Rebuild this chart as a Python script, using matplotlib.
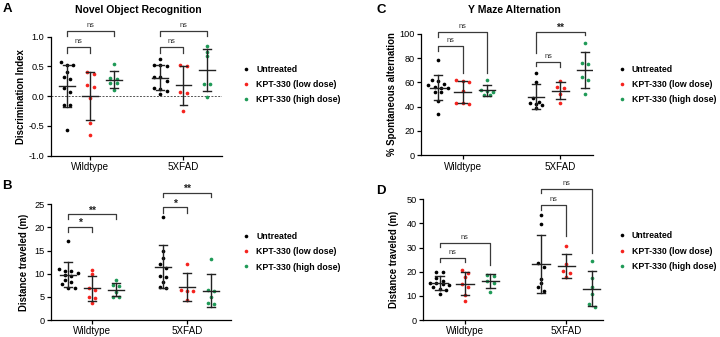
import numpy as np
import matplotlib
matplotlib.use("Agg")
import matplotlib.pyplot as plt
from matplotlib.lines import Line2D

plt.rcParams['font.family'] = ['Liberation Sans', 'DejaVu Sans']

groups = ['Wildtype', '5XFAD']
treatments = ['Untreated', 'KPT-330 (low dose)', 'KPT-330 (high dose)']
colors = ['#000000', '#f5231e', '#1f9a57']

# A - novel object recognition (discrimination index)
A_wt_unt = [0.57, 0.52, 0.52, 0.40, 0.32, 0.29, 0.13, 0.07, -0.15, -0.15, -0.57]
A_wt_low = [0.40, 0.37, 0.19, 0.15, -0.03, -0.45, -0.65]
A_wt_high = [0.54, 0.30, 0.29, 0.23, 0.22, 0.10]
A_fad_unt = [0.63, 0.53, 0.52, 0.50, 0.32, 0.32, 0.26, 0.13, 0.12, 0.08, 0.03]
A_fad_low = [0.53, 0.50, 0.07, 0.05, -0.25]
A_fad_high = [0.84, 0.75, 0.68, 0.20, 0.20, -0.02]

# B - distance traveled (m), NOR
B_wt_unt = [17.1, 11.0, 10.6, 10.5, 10.2, 9.8, 9.5, 8.7, 8.2, 7.8, 7.0, 7.0]
B_wt_low = [10.8, 9.9, 7.0, 6.5, 5.0, 4.8, 3.7]
B_wt_high = [8.6, 7.5, 7.3, 6.1, 5.0, 5.0]
B_fad_unt = [22.3, 15.0, 13.5, 12.0, 11.3, 9.5, 9.2, 8.2, 7.2, 7.0]
B_fad_low = [12.2, 6.4, 6.2, 6.2, 4.4]
B_fad_high = [13.1, 6.5, 6.3, 4.9, 3.6, 3.4]

# C - Y maze % spontaneous alternation
C_wt_unt = [78, 62, 61, 59, 58, 56, 55, 55, 52, 52, 45, 34]
C_wt_low = [62, 61, 60, 53, 43, 42, 43]
C_wt_high = [62, 54, 53, 52, 50, 50]
C_fad_unt = [68, 60.5, 47, 44, 43, 42.5, 41.5, 38.5]
C_fad_low = [61.4, 56.4, 55.1, 50.2, 43.3]
C_fad_high = [92.6, 76.2, 75.3, 64.1, 61.9, 50.4]

# D - distance traveled (m), Y maze
D_wt_unt = [20.0, 19.8, 17.5, 16.3, 15.5, 15.2, 15.0, 14.5, 13.5, 12.8, 12.5, 10.8]
D_wt_low = [20.8, 19.3, 18.0, 15.0, 13.5, 10.5, 7.9]
D_wt_high = [18.8, 18.2, 16.0, 15.5, 11.5]
D_fad_unt = [43.5, 39.6, 23.5, 22.1, 17.0, 15.2, 13.5, 12.0]
D_fad_low = [30.5, 23.2, 20.3, 19.6, 17.7]
D_fad_high = [24.3, 17.5, 13.5, 10.8, 6.6, 5.3]

# significance brackets: (x1, x2, top, leg1 end, leg2 end, label)
A_sig = [(0, 1, 0.82, 0.73, 0.73, 'ns'), (0, 2, 1.10, 1.01, 1.01, 'ns'),
         (4, 5, 0.82, 0.73, 0.73, 'ns'), (4, 6, 1.10, 1.01, 1.01, 'ns')]
B_sig = [(0, 1, 20.2, 19.1, 19.1, '*'), (0, 2, 22.8, 21.8, 21.8, '**'),
         (4, 5, 24.4, 23.2, 23.2, '*'), (4, 6, 27.5, 26.5, 26.5, '**')]
C_sig = [(0, 1, 89.9, 86.0, 68.0, 'ns'), (0, 2, 101.6, 97.5, 67.4, 'ns'),
         (4, 5, 77.0, 73.7, 72.9, 'ns'), (4, 6, 101.7, 83.9, 98.9, '**')]
D_sig = [(0, 1, 25.8, 24.2, 23.9, 'ns'), (0, 2, 32.0, 30.4, 22.8, 'ns'),
         (4, 5, 47.7, 45.6, 34.9, 'ns'), (4, 6, 54.3, 52.5, 27.6, 'ns')]

W, H = 720, 337
fig = plt.figure(figsize=(W / 100, H / 100), dpi=100)


def rect(x0, x1, ytop, ybot):
    return [x0 / W, 1 - ybot / H, (x1 - x0) / W, (ybot - ytop) / H]


def swarm(vals, ax, step_px=6.4, thr_px=4.0):
    # group close values into rows and spread them sideways
    bb = ax.get_window_extent()
    y0, y1 = ax.get_ylim()
    x0, x1 = ax.get_xlim()
    py = bb.height / (y1 - y0)
    px = bb.width / (x1 - x0)
    order = np.argsort(vals)[::-1]
    v = np.asarray(vals)[order]
    offs = np.zeros(len(v))
    rows = []
    for i in range(len(v)):
        if rows and (v[rows[-1][0]] - v[i]) * py < thr_px:
            rows[-1].append(i)
        else:
            rows.append([i])
    for r in rows:
        n = len(r)
        for k, i in enumerate(r):
            offs[i] = (k - (n - 1) / 2) * step_px / px
    out = np.zeros(len(v))
    out[order] = offs
    return out


def panel(box, xlim, ylim, yticks, data, sig, ylabel, ylab_x, fmt):
    ax = fig.add_axes(rect(*box))
    ax.set_xlim(*xlim)
    ax.set_ylim(*ylim)
    pos = [0, 1, 2, 4, 5, 6]
    for p, vals in zip(pos, data):
        c = colors[p % 4]
        xs = p + swarm(vals, ax)
        ax.scatter(xs, vals, s=7, color=c, linewidths=0, zorder=3)
        m = np.mean(vals)
        sd = np.std(vals, ddof=1)
        ax.plot([p - 0.34, p + 0.34], [m, m], color='#222222', lw=1.0, zorder=4)
        ax.plot([p, p], [m - sd, m + sd], color='#222222', lw=1.0, zorder=4)
        for yy in (m - sd, m + sd):
            ax.plot([p - 0.17, p + 0.17], [yy, yy], color='#222222', lw=1.0, zorder=4)
    for x1, x2, top, l1, l2, lab in sig:
        ax.plot([x1, x1, x2, x2], [l1, top, top, l2], color='#3a3a3a', lw=0.9,
                clip_on=False)
        if lab == 'ns':
            ax.annotate(lab, ((x1 + x2) / 2, top), xytext=(0, 1.5),
                        textcoords='offset points', ha='center', va='bottom',
                        fontsize=5.3, color='#333333', annotation_clip=False)
        else:
            ax.annotate(lab, ((x1 + x2) / 2, top), xytext=(0, -1),
                        textcoords='offset points', ha='center', va='bottom',
                        fontsize=7.5, fontweight='bold', color='#222222',
                        annotation_clip=False)
    for s in ['top', 'right']:
        ax.spines[s].set_visible(False)
    for s in ['left', 'bottom']:
        ax.spines[s].set_linewidth(0.9)
    ax.set_yticks(yticks)
    ax.set_yticklabels([fmt.format(t) for t in yticks], fontsize=6.6)
    ax.set_xticks([1, 5])
    ax.set_xticklabels(groups, fontsize=7.1)
    ax.tick_params(length=3, width=0.9, pad=1.5)
    ax.set_ylabel(ylabel, fontsize=6.9, fontweight='bold')
    ax.yaxis.set_label_coords(ylab_x, 0.5)
    return ax


axA = panel((50.7, 221.7, 36.7, 155.7), (-0.70, 6.64), (-1, 1),
            [-1.0, -0.5, 0.0, 0.5, 1.0],
            [A_wt_unt, A_wt_low, A_wt_high, A_fad_unt, A_fad_low, A_fad_high],
            A_sig, 'Discrimination Index', -0.144, '{:.1f}')
axA.axhline(0, color='#555555', lw=0.7, ls=(0, (2, 1.5)), zorder=1)

axB = panel((50.7, 230.7, 204.3, 320), (-0.74, 6.84), (0, 25),
            [0, 5, 10, 15, 20, 25],
            [B_wt_unt, B_wt_low, B_wt_high, B_fad_unt, B_fad_low, B_fad_high],
            B_sig, 'Distance traveled (m)', -0.12, '{:d}')

axC = panel((420.7, 593.3, 33.7, 155.3), (-0.71, 6.34), (0, 100),
            [0, 20, 40, 60, 80, 100],
            [C_wt_unt, C_wt_low, C_wt_high, C_fad_unt, C_fad_low, C_fad_high],
            C_sig, '% Spontaneous alternation', -0.139, '{:d}')

axD = panel((423.3, 603, 199.3, 320), (-0.64, 6.44), (0, 50),
            [0, 10, 20, 30, 40, 50],
            [D_wt_unt, D_wt_low, D_wt_high, D_fad_unt, D_fad_low, D_fad_high],
            D_sig, 'Distance traveled (m)', -0.135, '{:d}')

# legends
handles = [Line2D([], [], ls='', marker='o', markersize=2.6, color=c, markeredgewidth=0)
           for c in colors]
for ax, (lx, ly) in [(axA, (242.5, 84.7)), (axB, (242.5, 251.7)),
                     (axC, (618, 84.7)), (axD, (618, 251.2))]:
    ax.legend(handles, treatments, loc='center left', frameon=False,
              bbox_to_anchor=(lx / W, 1 - ly / H), bbox_transform=fig.transFigure,
              borderpad=0, borderaxespad=0, handlelength=0.8, handletextpad=0.75,
              labelspacing=0.72, prop={'size': 6.3, 'weight': 'bold'})

# titles and panel letters
fig.text(138 / W, 1 - 10 / H, 'Novel Object Recognition', ha='center', va='center',
         fontsize=7.5, fontweight='bold')
fig.text(514 / W, 1 - 10 / H, 'Y Maze Alternation', ha='center', va='center',
         fontsize=7.5, fontweight='bold')
for lab, x, y in [('A', 7, 9.5), ('B', 7, 186), ('C', 381, 10), ('D', 381, 191)]:
    fig.text(x / W, 1 - y / H, lab, ha='center', va='center', fontsize=9.5,
             fontweight='bold')

fig.savefig('out.png', dpi=100)
